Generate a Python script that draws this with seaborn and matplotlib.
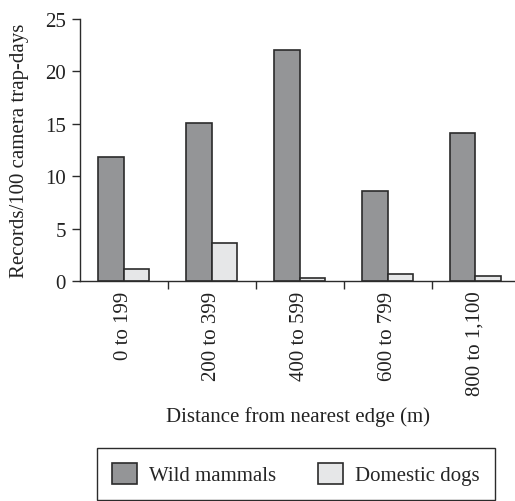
import matplotlib
matplotlib.use("Agg")
import matplotlib.pyplot as plt
import seaborn as sns
import pandas as pd

# Data
categories = ["0 to 199", "200 to 399", "400 to 599", "600 to 799", "800 to 1,100"]
wild = [11.8, 15.1, 22.0, 8.6, 14.1]
dogs = [1.1, 3.6, 0.3, 0.7, 0.5]
series = ["Wild mammals", "Domestic dogs"]

df = pd.DataFrame({
    "distance": categories * 2,
    "records": wild + dogs,
    "group": [series[0]] * len(wild) + [series[1]] * len(dogs),
})

sns.set_style("ticks")
plt.rcParams["font.family"] = ["Liberation Serif", "DejaVu Serif"]
plt.rcParams["font.size"] = 15
dark = "#2b2b2b"

fig = plt.figure(figsize=(5.15, 5.02), dpi=100)
ax = fig.add_axes([80 / 515, 1 - 282 / 502, 435 / 515, 262 / 502])

sns.barplot(
    data=df, x="distance", y="records", hue="group",
    palette=["#939598", "#e6e7e8"], width=0.58,
    edgecolor=dark, linewidth=1.2, ax=ax,
)

handles, labels = ax.get_legend_handles_labels()
ax.get_legend().remove()

ax.set_xlim(-0.5, 4.45)
ax.set_ylim(0, 25)
ax.set_yticks(range(0, 26, 5))
ax.set_xticks([0.5, 1.5, 2.5, 3.5], minor=True)
ax.tick_params(axis="x", which="major", length=0, rotation=90, pad=7, labelsize=15, colors="#222222")
ax.tick_params(axis="x", which="minor", length=6, width=1, color=dark)
ax.tick_params(axis="y", length=6, width=1, color=dark, pad=4, labelsize=15, labelcolor="#222222")
for lab in ax.get_xticklabels():
    lab.set_va("top")

sns.despine(ax=ax)
for s in ["left", "bottom"]:
    ax.spines[s].set_color(dark)
    ax.spines[s].set_linewidth(1.0)

ax.set_xlabel("Distance from nearest edge (m)", fontsize=15, labelpad=8, color="#222222")
ax.set_ylabel("Records/100 camera trap-days", fontsize=15, labelpad=12, color="#222222")

leg = fig.legend(
    handles, labels, loc="upper left", bbox_to_anchor=(97 / 515, 1 - 449 / 502),
    ncol=2, frameon=True, fancybox=False, edgecolor=dark, framealpha=1,
    handlelength=1.2, handleheight=1.2, handletextpad=0.6, columnspacing=2.0,
    borderpad=0.7, borderaxespad=0, fontsize=15,
)
leg.get_frame().set_linewidth(1.0)

fig.savefig("out.png", dpi=100)
